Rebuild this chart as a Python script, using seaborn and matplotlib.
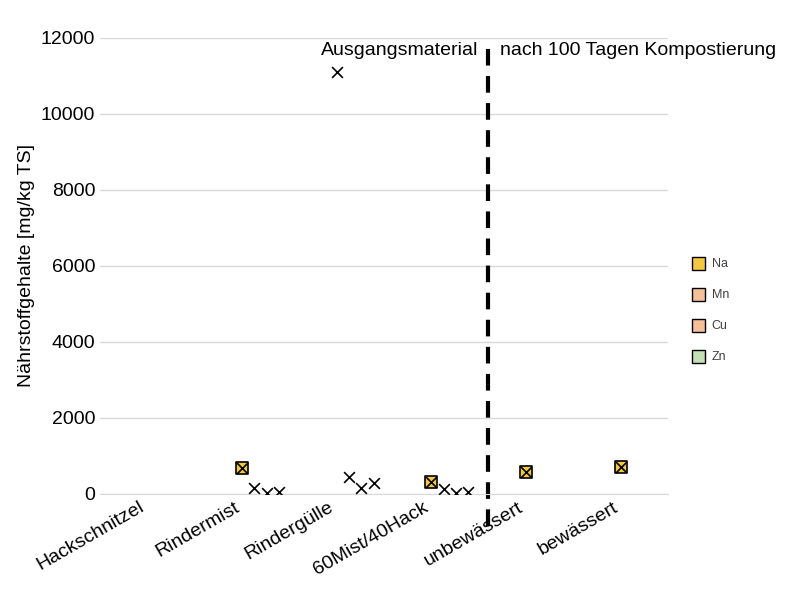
import matplotlib
matplotlib.use("Agg")
import matplotlib.pyplot as plt
import seaborn as sns
import pandas as pd
import numpy as np

plt.rcParams["font.family"] = "Liberation Sans"

categories = ["Hackschnitzel", "Rindermist", "Rindergülle", "60Mist/40Hack", "unbewässert", "bewässert"]
series = ["Na", "Mn", "Cu", "Zn"]
na = [np.nan, 680, 11100, 300, 570, 700]
na_box = [False, True, False, True, True, True]
mn = [np.nan, 150, 450, 130, np.nan, np.nan]
cu = [np.nan, 30, 150, 20, np.nan, np.nan]
zn = [np.nan, 50, 280, 40, np.nan, np.nan]
colors = {"Na": "#F5C842", "Mn": "#F4C09A", "Cu": "#F4C09A", "Zn": "#C5E0B4"}
offsets = {"Na": 0.0, "Mn": 0.13, "Cu": 0.26, "Zn": 0.39}

rows = []
for s, vals in zip(series, [na, mn, cu, zn]):
    for i, v in enumerate(vals):
        rows.append({"cat": i, "x": i + offsets[s], "val": v, "series": s,
                     "box": (s == "Na" and na_box[i])})
df = pd.DataFrame(rows).dropna(subset=["val"])

fig = plt.figure(figsize=(8.07, 6.03), dpi=100)
ax = fig.add_axes([0.124, 0.181, 0.704, 0.756])

dna = df[df.box]
sns.scatterplot(data=dna, x="x", y="val", marker="s", s=70, color=colors["Na"],
                edgecolor="black", linewidth=1.2, ax=ax, legend=False, zorder=3)
sns.scatterplot(data=df, x="x", y="val", marker="x", s=60, color="black",
                linewidth=1.2, ax=ax, legend=False, zorder=4)

ax.set_xlim(-0.5, 5.5)
ax.set_ylim(0, 12000)
ax.set_yticks(range(0, 12001, 2000))
ax.set_xticks(range(len(categories)))
ax.set_xticklabels(categories, rotation=30, ha="right", fontsize=14)
ax.tick_params(axis="y", labelsize=14, length=0)
ax.tick_params(axis="x", length=0)
ax.yaxis.grid(True, color="#d9d9d9", linewidth=1)
ax.set_axisbelow(True)
for sp in ["top", "right", "left"]:
    ax.spines[sp].set_visible(False)
ax.spines["bottom"].set_color("#d9d9d9")
ax.set_xlabel("")
ax.set_ylabel("Nährstoffgehalte [mg/kg TS]", fontsize=14)

ax.plot([3.6, 3.6], [-0.07, 0.995], transform=ax.get_xaxis_transform(),
        color="black", linestyle=(0, (4, 2.5)), linewidth=3, clip_on=False)
ax.text(3.5, 11450, "Ausgangsmaterial", ha="right", va="bottom", fontsize=14)
ax.text(3.72, 11450, "nach 100 Tagen Kompostierung", ha="left", va="bottom", fontsize=14)

for i, s in enumerate(series):
    y = 0.562 - i * 0.0514
    fig.patches.append(plt.Rectangle((0.857, y - 0.01), 0.016, 0.021, transform=fig.transFigure,
                                     facecolor=colors[s], edgecolor="black", linewidth=1))
    fig.text(0.882, y, s, fontsize=9, va="center", color="#404040")

fig.savefig("out.png", dpi=100)
